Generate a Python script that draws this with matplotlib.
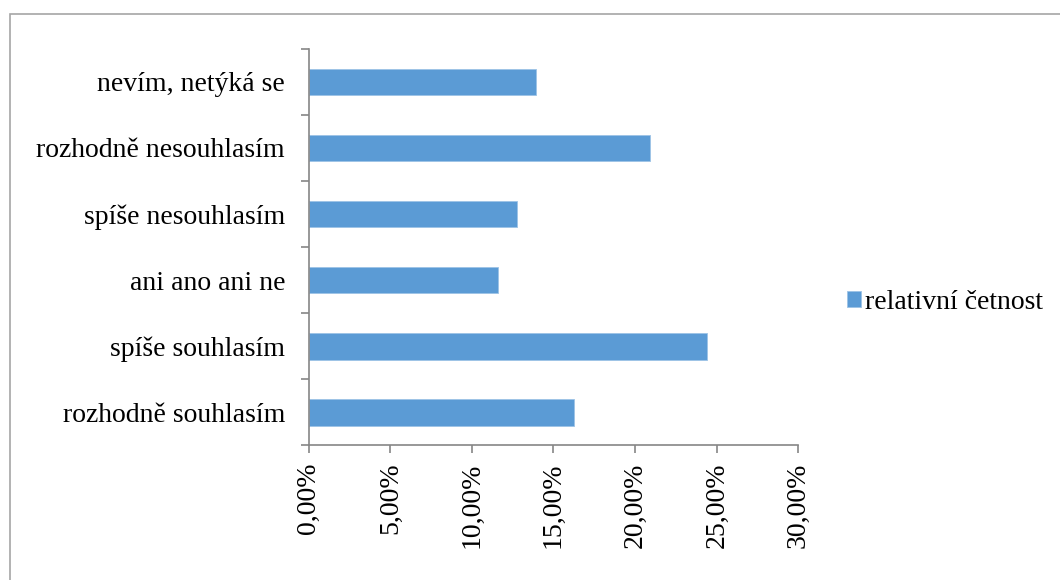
import matplotlib
matplotlib.use("Agg")
import matplotlib.pyplot as plt
from matplotlib.ticker import FixedLocator
from matplotlib.patches import Rectangle

# Survey answers (bottom to top) and their relative frequencies in percent
categories = ["rozhodně souhlasím", "spíše souhlasím", "ani ano ani ne",
              "spíše nesouhlasím", "rozhodně nesouhlasím", "nevím, netýká se"]
values = [16.28, 24.42, 11.63, 12.79, 20.93, 13.95]
series_name = "relativní četnost"
x_ticks = [0, 5, 10, 15, 20, 25, 30]

plt.rcParams['font.family'] = ['Liberation Serif', 'DejaVu Serif']

fig = plt.figure(figsize=(10.6, 5.8), dpi=100)
ax = fig.add_axes([0.2912, 0.2319, 0.4619, 0.6841])

bar_color = "#5B9BD5"
axis_color = "#868686"
fs = 20

ax.barh(range(len(categories)), values, height=0.4, color=bar_color,
        edgecolor="#9DC3E6", linewidth=0.6, label=series_name)

ax.set_xlim(0, 30)
ax.set_ylim(-0.5, len(categories) - 0.5)

# category labels centred on bars, tick marks on the boundaries
ax.set_yticks(range(len(categories)))
ax.set_yticklabels(categories, fontsize=fs)
ax.yaxis.set_minor_locator(FixedLocator([i - 0.5 for i in range(len(categories) + 1)]))
ax.tick_params(axis='y', which='major', length=0, pad=17)
ax.tick_params(axis='y', which='minor', length=6, width=1.2, color=axis_color)

ax.set_xticks(x_ticks)
ax.set_xticklabels([f"{t:.2f}%".replace(".", ",") for t in x_ticks],
                   rotation=90, fontsize=fs)
ax.tick_params(axis='x', length=6, width=1.2, color=axis_color, pad=6)

for side in ("top", "right"):
    ax.spines[side].set_visible(False)
for side in ("left", "bottom"):
    ax.spines[side].set_color(axis_color)
    ax.spines[side].set_linewidth(1.2)

leg = fig.legend(loc="center left", bbox_to_anchor=(0.799, 0.479), frameon=False,
                 fontsize=fs, handlelength=0.5, handleheight=0.5, handletextpad=0.15,
                 borderaxespad=0, borderpad=0)

# chart-area frame
fig.patches.append(Rectangle((10 / 1060, -0.1), 1.2, 1 - 14 / 580 + 0.1,
                             transform=fig.transFigure, fill=False,
                             edgecolor="#A6A6A6", linewidth=1.2))

fig.savefig("out.png", dpi=100)
